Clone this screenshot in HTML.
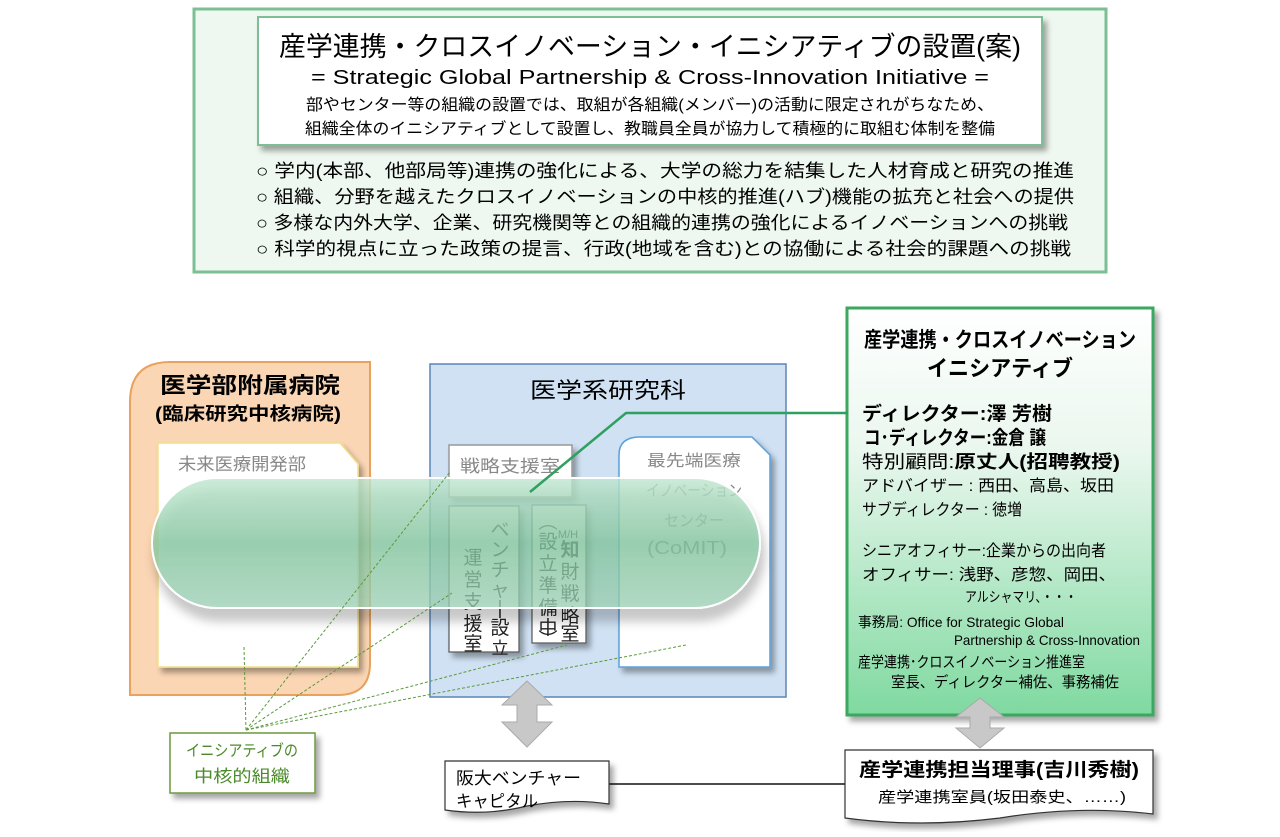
<!DOCTYPE html>
<html><head><meta charset="utf-8"><style>
html,body{margin:0;padding:0;background:#fff;}
svg text{font-family:"Liberation Sans","Noto Sans CJK JP",sans-serif;}
</style></head><body>
<svg width="1280" height="832" viewBox="0 0 1280 832" xmlns="http://www.w3.org/2000/svg">
<defs>
<linearGradient id="gg" x1="0" y1="0" x2="0" y2="1"><stop offset="0" stop-color="#ffffff"/><stop offset="0.35" stop-color="#eaf7ee"/><stop offset="1" stop-color="#7fd9a0"/></linearGradient>
<linearGradient id="pill" x1="0" y1="0" x2="0" y2="1"><stop offset="0" stop-color="#bfe6cf" stop-opacity="0.8"/><stop offset="0.5" stop-color="#86c9a2" stop-opacity="0.75"/><stop offset="1" stop-color="#a0d6b8" stop-opacity="0.7"/></linearGradient>
<filter id="sh" x="-10%" y="-10%" width="130%" height="140%"><feDropShadow dx="4" dy="5" stdDeviation="3" flood-color="#000" flood-opacity="0.35"/></filter>
<filter id="sh2" x="-10%" y="-20%" width="130%" height="160%"><feDropShadow dx="3" dy="12" stdDeviation="5" flood-color="#000" flood-opacity="0.3"/></filter>
</defs>

<rect x="194" y="9" width="912" height="263" fill="#eef8f0" stroke="#7cbf94" stroke-width="3"/>
<rect x="258" y="17" width="784" height="128" fill="#fff" stroke="#7cbf94" stroke-width="2" filter="url(#sh)"/>
<text x="650" y="56" text-anchor="middle" font-size="27" textLength="742" lengthAdjust="spacingAndGlyphs">産学連携・クロスイノベーション・イニシアティブの設置(案)</text>
<text x="650" y="84" text-anchor="middle" font-size="20" textLength="678" lengthAdjust="spacingAndGlyphs">= Strategic Global Partnership &amp; Cross-Innovation Initiative =</text>
<text x="650" y="110" text-anchor="middle" font-size="16" textLength="688" lengthAdjust="spacingAndGlyphs">部やセンター等の組織の設置では、取組が各組織(メンバー)の活動に限定されがちなため、</text>
<text x="650" y="134" text-anchor="middle" font-size="16" textLength="690" lengthAdjust="spacingAndGlyphs">組織全体のイニシアティブとして設置し、教職員全員が協力して積極的に取組む体制を整備</text>
<g font-size="18">
<text x="256" y="177" textLength="818" lengthAdjust="spacingAndGlyphs">○ 学内(本部、他部局等)連携の強化による、大学の総力を結集した人材育成と研究の推進</text>
<text x="256" y="203" textLength="818" lengthAdjust="spacingAndGlyphs">○ 組織、分野を越えたクロスイノベーションの中核的推進(ハブ)機能の拡充と社会への提供</text>
<text x="256" y="229" textLength="812" lengthAdjust="spacingAndGlyphs">○ 多様な内外大学、企業、研究機関等との組織的連携の強化によるイノベーションへの挑戦</text>
<text x="256" y="255" textLength="815" lengthAdjust="spacingAndGlyphs">○ 科学的視点に立った政策の提言、行政(地域を含む)との協働による社会的課題への挑戦</text>
</g>

<path d="M170 362 H370 V663 Q370 695 338 695 H130 V402 Q130 362 170 362Z" fill="#fbd6b4" stroke="#e9a25d" stroke-width="2"/>
<text x="250" y="393" text-anchor="middle" font-size="22" font-weight="bold" textLength="180" lengthAdjust="spacingAndGlyphs">医学部附属病院</text>
<text x="248" y="420" text-anchor="middle" font-size="18" font-weight="bold" textLength="186" lengthAdjust="spacingAndGlyphs">(臨床研究中核病院)</text>
<path d="M158 443 H340 L358 464 V667 H158Z" fill="#fff" stroke="#f2e08a" stroke-width="1.5" filter="url(#sh)"/>
<text x="178" y="470" font-size="17" fill="#888" textLength="128" lengthAdjust="spacingAndGlyphs">未来医療開発部</text>

<rect x="430" y="364" width="356" height="333" fill="#cfe1f3" stroke="#5a86b6" stroke-width="1.5"/>
<text x="608" y="398" text-anchor="middle" font-size="22" textLength="156" lengthAdjust="spacingAndGlyphs">医学系研究科</text>
<rect x="449" y="445" width="123" height="52" fill="#fff" stroke="#999" stroke-width="1.5" filter="url(#sh)"/>
<text x="510" y="472" text-anchor="middle" font-size="17" fill="#888" textLength="100" lengthAdjust="spacingAndGlyphs">戦略支援室</text>
<rect x="449" y="506" width="70" height="146" fill="#fff" stroke="#555" stroke-width="1.2" filter="url(#sh)"/>
<rect x="532" y="505" width="54" height="138" fill="#fff" stroke="#555" stroke-width="1.2" filter="url(#sh)"/>
<path d="M619 667 V455 Q619 437 640 437 H752 L770 455 V667Z" fill="#fff" stroke="#5aa0dc" stroke-width="1.5" filter="url(#sh)"/>
<text x="694" y="466" text-anchor="middle" font-size="16" fill="#888" textLength="94" lengthAdjust="spacingAndGlyphs">最先端医療</text>
<text x="694" y="496" text-anchor="middle" font-size="16" fill="#888" textLength="96" lengthAdjust="spacingAndGlyphs">イノベーション</text>
<text x="694" y="526" text-anchor="middle" font-size="16" fill="#888" textLength="60" lengthAdjust="spacingAndGlyphs">センター</text>
<text x="687" y="554" text-anchor="middle" font-size="18" fill="#888" textLength="80" lengthAdjust="spacingAndGlyphs">(CoMIT)</text>

<g font-size="19" text-anchor="middle" fill="#222">
<text x="500" y="536">ベ</text><text x="500" y="556">ン</text><text x="500" y="576">チ</text><text x="500" y="596">ャ</text><text x="500" y="614">|</text><text x="500" y="634">設</text><text x="500" y="654" font-size="17">立</text>
<text x="473" y="564">運</text><text x="473" y="586">営</text><text x="473" y="608">支</text><text x="473" y="630">援</text><text x="473" y="650">室</text>
<text x="568" y="538" font-size="11">M/H</text>
<text x="570" y="556" font-weight="bold">知</text><text x="570" y="578">財</text><text x="570" y="600">戦</text><text x="570" y="622">略</text><text x="570" y="640">室</text>
<text x="548" y="528">︵</text><text x="548" y="548">設</text><text x="548" y="570">立</text><text x="548" y="592">準</text><text x="548" y="614">備</text><text x="548" y="634">中</text><text x="548" y="646">︶</text>
</g>

<rect x="152" y="478" width="608" height="130" rx="65" fill="url(#pill)" stroke="#fff" stroke-width="2" filter="url(#sh2)"/>

<rect x="847" y="308" width="306" height="407" fill="url(#gg)" stroke="#3aa860" stroke-width="3" filter="url(#sh)"/>
<text x="1000" y="347" text-anchor="middle" font-size="21" font-weight="bold" textLength="272" lengthAdjust="spacingAndGlyphs">産学連携・クロスイノベーション</text>
<text x="1000" y="376" text-anchor="middle" font-size="22" font-weight="bold" textLength="146" lengthAdjust="spacingAndGlyphs">イニシアティブ</text>
<text x="862" y="420" font-size="19" font-weight="bold" textLength="190" lengthAdjust="spacingAndGlyphs">ディレクター:澤 芳樹</text>
<text x="864" y="444" font-size="19" font-weight="bold" textLength="182" lengthAdjust="spacingAndGlyphs">コ･ディレクター:金倉 譲</text>
<text x="862" y="468" font-size="18" textLength="258" lengthAdjust="spacingAndGlyphs">特別顧問:<tspan font-weight="bold">原丈人(招聘教授)</tspan></text>
<text x="862" y="491" font-size="16" textLength="252" lengthAdjust="spacingAndGlyphs">アドバイザー : 西田、高島、坂田</text>
<text x="862" y="515" font-size="16" textLength="160" lengthAdjust="spacingAndGlyphs">サブディレクター : 徳増</text>
<text x="862" y="556" font-size="16" textLength="244" lengthAdjust="spacingAndGlyphs">シニアオフィサー:企業からの出向者</text>
<text x="862" y="580" font-size="16" textLength="254" lengthAdjust="spacingAndGlyphs">オフィサー: 浅野、彦惣、岡田、</text>
<text x="965" y="602" font-size="14" textLength="112" lengthAdjust="spacingAndGlyphs">アルシャマリ、・・・</text>
<text x="858" y="627" font-size="14" textLength="206" lengthAdjust="spacingAndGlyphs">事務局: Office for Strategic Global</text>
<text x="954" y="645" font-size="14" textLength="186" lengthAdjust="spacingAndGlyphs">Partnership &amp; Cross-Innovation</text>
<text x="858" y="667" font-size="15" textLength="227" lengthAdjust="spacingAndGlyphs">産学連携･クロスイノベーション推進室</text>
<text x="891" y="687" font-size="15" textLength="228" lengthAdjust="spacingAndGlyphs">室長、ディレクター補佐、事務補佐</text>

<polyline points="530,492 626,413 848,413" fill="none" stroke="#2fa060" stroke-width="2.5"/>

<g stroke="#5a9a3a" stroke-width="1" stroke-dasharray="3,2" fill="none">
<line x1="246" y1="730" x2="244" y2="647"/>
<line x1="246" y1="730" x2="450" y2="472"/>
<line x1="246" y1="730" x2="452" y2="593"/>
<line x1="246" y1="730" x2="567" y2="645"/>
<line x1="246" y1="730" x2="686" y2="645"/>
</g>

<rect x="170" y="733" width="145" height="60" fill="#fff" stroke="#6a9a3a" stroke-width="1.5" filter="url(#sh)"/>
<text x="242" y="756" text-anchor="middle" font-size="16" fill="#4a8a2a" textLength="112" lengthAdjust="spacingAndGlyphs">イニシアティブの</text>
<text x="242" y="782" text-anchor="middle" font-size="17" fill="#4a8a2a" textLength="96" lengthAdjust="spacingAndGlyphs">中核的組織</text>

<g fill="#c8c8c8" stroke="#aaa" stroke-width="1">
<path d="M527 681 L552 705 H537 V722 H552 L527 747 L502 722 H517 V705 H502Z"/>
<path d="M980 698 L1004 717 H990 V728 H1004 L980 748 L956 728 H970 V717 H956Z"/>
</g>

<line x1="609" y1="784" x2="845" y2="784" stroke="#111" stroke-width="1.5"/>
<path d="M445 761 H609 V804 Q570 798 527 806 Q487 816 445 810Z" fill="#fff" stroke="#333" stroke-width="1.2" filter="url(#sh)"/>
<text x="456" y="784" font-size="17" textLength="125" lengthAdjust="spacingAndGlyphs">阪大ベンチャー</text>
<text x="456" y="807" font-size="17" textLength="82" lengthAdjust="spacingAndGlyphs">キャピタル</text>
<path d="M845 750 H1153 V814 Q1080 805 1000 818 Q920 828 845 818Z" fill="#fff" stroke="#333" stroke-width="1.2" filter="url(#sh)"/>
<text x="999" y="776" text-anchor="middle" font-size="19" font-weight="bold" textLength="280" lengthAdjust="spacingAndGlyphs">産学連携担当理事(吉川秀樹)</text>
<text x="878" y="802" font-size="15" textLength="248" lengthAdjust="spacingAndGlyphs">産学連携室員(坂田泰史、……)</text>
</svg>
</body></html>
